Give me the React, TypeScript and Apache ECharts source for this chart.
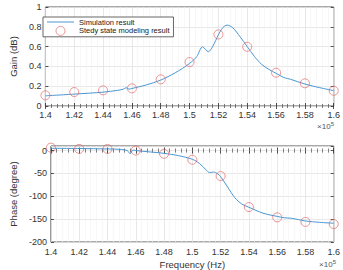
import React, { useEffect, useRef } from "react";
import * as echarts from "echarts";

// Simulation sweep (Hz) and responses
const simGainFreq = [140000, 142000, 144000, 145000, 145400, 145600, 145800, 146000, 147000, 148000, 149000, 150000, 150500, 150900, 151300, 151600, 152000, 152300, 152600, 153000, 153500, 154000, 154500, 155000, 155500, 156000, 156500, 156800, 157000, 158000, 159000, 160000];
const simGain = [0.103, 0.12, 0.14, 0.158, 0.17, 0.185, 0.17, 0.177, 0.213, 0.262, 0.335, 0.43, 0.5, 0.598, 0.548, 0.6, 0.72, 0.79, 0.817, 0.79, 0.7, 0.6, 0.5, 0.42, 0.37, 0.33, 0.29, 0.277, 0.27, 0.222, 0.186, 0.155];

const simPhaseFreq = [140000, 142000, 144000, 145000, 145400, 145600, 145800, 146000, 147000, 148000, 149000, 150000, 150500, 151000, 151200, 151500, 151800, 152000, 152500, 153000, 153500, 154000, 155000, 156000, 156500, 157000, 158000, 159000, 160000];
const simPhase = [5, 4.5, 3.6, 2.5, 0, -7, 1, 0, -3, -6, -11, -19, -28, -43, -48, -47, -51, -57, -80, -103, -117, -124, -137, -144, -147, -148, -154, -157, -159];

// Steady state model evaluation points
const modelFreq = [140000, 142000, 144000, 146000, 148000, 150000, 152000, 154000, 156000, 158000, 160000];
const modelGain = [0.108, 0.141, 0.158, 0.178, 0.269, 0.444, 0.723, 0.598, 0.336, 0.229, 0.154];
const modelPhase = [6.4, 3.6, 3.6, 0, -7, -20, -55.7, -123.6, -146, -156, -160.7];

const gainTicks = [0, 0.2, 0.4, 0.6, 0.8, 1];
const phaseTicks = [-200, -150, -100, -50, 0];

const FONT = "Liberation Sans, Arial, sans-serif";
const TXT = "#333333";
const LINE_COLOR = "#4a97d2";
const MARK_COLOR = "#e05a5c";

const pair = (xs: number[], ys: number[]) => xs.map((x, i) => [x, ys[i]]);
const fmtFreq = (v: number) => String(parseFloat((v / 1e5).toFixed(2)));

function xAxes(gridIndex: number, labelMargin: number, name?: string) {
  const common = {
    type: "value" as const,
    gridIndex,
    min: 140000,
    max: 160000,
    interval: 2000,
    axisLine: { show: false },
    axisTick: { show: true, inside: true, length: 3, lineStyle: { color: "#262626", width: 0.8 } },
    minorTick: { show: true, splitNumber: 5, length: 2, lineStyle: { color: "#262626", width: 0.6 } },
  };
  return [
    {
      ...common,
      position: "bottom",
      axisLabel: { fontSize: 9, color: TXT, fontFamily: FONT, margin: labelMargin, formatter: fmtFreq },
      splitLine: { show: true, lineStyle: { color: "#e2e2e2", width: 0.8 } },
      minorSplitLine: { show: true, lineStyle: { color: "#f1f1f1", width: 0.6 } },
      name: name || "",
      nameLocation: "middle",
      nameGap: 17,
      nameTextStyle: { fontSize: 9.5, color: TXT, fontFamily: FONT },
    },
    {
      ...common,
      position: "top",
      axisLabel: { show: false },
      splitLine: { show: false },
    },
  ];
}

function yAxes(gridIndex: number, min: number, max: number, interval: number, ticks: number[], name: string, nameGap: number) {
  const common = {
    type: "value" as const,
    gridIndex,
    min,
    max,
    interval,
    axisLine: { show: false },
    axisTick: { show: true, inside: true, length: 3, lineStyle: { color: "#262626", width: 0.8 } },
  };
  return [
    {
      ...common,
      position: "left",
      axisLabel: {
        fontSize: 9,
        color: TXT,
        fontFamily: FONT,
        margin: 4,
        showMaxLabel: ticks.includes(max),
        formatter: (v: number) => (ticks.some((t) => Math.abs(t - v) < 1e-9) ? String(parseFloat(v.toFixed(2))) : ""),
      },
      splitLine: { show: true, lineStyle: { color: "#e2e2e2", width: 0.8 } },
      name,
      nameLocation: "middle",
      nameGap,
      nameTextStyle: { fontSize: 9.5, color: TXT, fontFamily: FONT },
    },
    {
      ...common,
      position: "right",
      axisLabel: { show: false },
      splitLine: { show: false },
    },
  ];
}

const markerStyle = { color: "rgba(255,255,255,0)", borderColor: MARK_COLOR, borderWidth: 0.8 };
const superscript = (top: number, right: number) => ({
  type: "text",
  right,
  top,
  style: {
    text: "×10{s|5}",
    fill: "#555555",
    font: `8px ${FONT}`,
    rich: { s: { fontSize: 6, verticalAlign: "top", padding: [0, 0, 5, 0], fill: "#555555" } },
  },
});

export default function App() {
  const ref = useRef<HTMLDivElement>(null);

  useEffect(() => {
    if (!ref.current) return;
    const chart = echarts.init(ref.current, undefined, { renderer: "svg" });
    const gridBox = { show: true, borderColor: "#262626", borderWidth: 0.8, backgroundColor: "#ffffff" };

    chart.setOption({
      animation: false,
      backgroundColor: "#ffffff",
      textStyle: { fontFamily: FONT },
      grid: [
        { ...gridBox, left: 32, width: 304, top: 7, height: 99 },
        { ...gridBox, left: 32, width: 304, top: 146, height: 98 },
      ],
      xAxis: [...xAxes(0, 4), ...xAxes(1, 5, "Frequency (Hz)")],
      yAxis: [
        ...yAxes(0, 0, 1, 0.2, gainTicks, "Gain (dB)", 18),
        ...yAxes(1, -200, 10, 50, phaseTicks, "Phase (degree)", 22),
      ],
      legend: {
        left: 43,
        top: 17,
        orient: "vertical",
        itemWidth: 27,
        itemHeight: 9,
        itemGap: 0,
        padding: [1, 4, 1, 4],
        backgroundColor: "#ffffff",
        borderColor: "#262626",
        borderWidth: 0.7,
        borderRadius: 0,
        textStyle: { fontSize: 7.5, color: "#222222", fontFamily: FONT },
        data: [
          { name: "Simulation result", icon: "path://M0,0 L27,0 L27,1 L0,1 Z", itemStyle: { color: LINE_COLOR } },
          { name: "Stedy state modeling result", icon: "circle", itemStyle: markerStyle },
        ],
      },
      series: [
        {
          name: "Simulation result",
          type: "line",
          xAxisIndex: 0,
          yAxisIndex: 0,
          data: pair(simGainFreq, simGain),
          symbol: "none",
          smooth: 0.3,
          lineStyle: { color: LINE_COLOR, width: 1 },
          itemStyle: { color: LINE_COLOR },
          z: 3,
        },
        {
          name: "Stedy state modeling result",
          type: "scatter",
          xAxisIndex: 0,
          yAxisIndex: 0,
          data: pair(modelFreq, modelGain),
          symbol: "circle",
          symbolSize: 9,
          itemStyle: markerStyle,
          z: 4,
        },
        {
          name: "Simulation result",
          type: "line",
          xAxisIndex: 2,
          yAxisIndex: 2,
          data: pair(simPhaseFreq, simPhase),
          symbol: "none",
          smooth: 0.3,
          lineStyle: { color: LINE_COLOR, width: 1 },
          itemStyle: { color: LINE_COLOR },
          z: 3,
        },
        {
          name: "Stedy state modeling result",
          type: "scatter",
          xAxisIndex: 2,
          yAxisIndex: 2,
          data: pair(modelFreq, modelPhase),
          symbol: "circle",
          symbolSize: 9,
          itemStyle: markerStyle,
          z: 4,
        },
      ],
      graphic: [superscript(121, 9), superscript(259, 7)],
    });

    return () => chart.dispose();
  }, []);

  return (
    <div
      ref={ref}
      style={{ position: "fixed", left: 0, top: 0, width: 343, height: 270, background: "#fff" }}
    />
  );
}
